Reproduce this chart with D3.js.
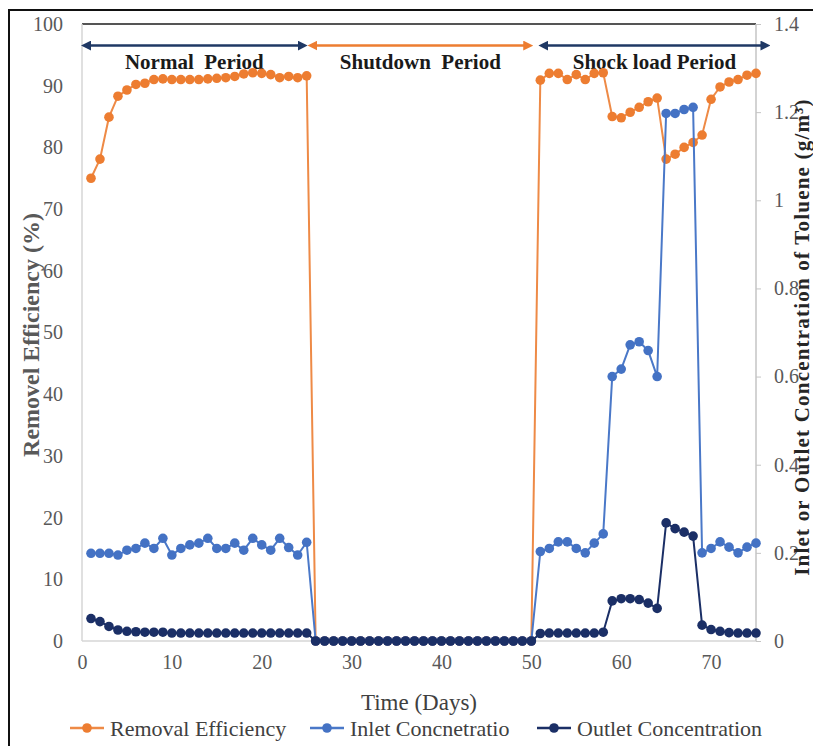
<!DOCTYPE html>
<html>
<head>
<meta charset="utf-8">
<script src="https://cdn.jsdelivr.net/npm/d3@7"></script>
<style>
  html, body { margin: 0; padding: 0; background: #fff; }
  svg { display: block; }
</style>
</head>
<body>
<svg id="chart" width="813" height="746"></svg>
<script>
// Days of operation
const days = [
  1, 2, 3, 4, 5, 6, 7, 8, 9, 10, 11, 12, 13, 14, 15, 16, 17, 18, 19, 20, 21, 22, 23, 24, 25,
  26, 27, 28, 29, 30, 31, 32, 33, 34, 35, 36, 37, 38, 39, 40, 41, 42, 43, 44, 45, 46, 47, 48, 49, 50,
  51, 52, 53, 54, 55, 56, 57, 58, 59, 60, 61, 62, 63, 64, 65, 66, 67, 68, 69, 70, 71, 72, 73, 74, 75
];

// Removal efficiency (%), left axis
const removalEfficiency = [
  75.0, 78.1, 84.9, 88.3, 89.3, 90.2, 90.4, 91.0, 91.1, 91.0, 91.0, 91.0, 91.0, 91.1, 91.2, 91.3, 91.5, 91.9, 92.1, 92.0, 91.8, 91.3, 91.5, 91.3, 91.6,
  0, 0, 0, 0, 0, 0, 0, 0, 0, 0, 0, 0, 0, 0, 0, 0, 0, 0, 0, 0, 0, 0, 0, 0, 0,
  90.9, 92.0, 92.0, 91.0, 91.8, 91.0, 92.0, 92.1, 85.0, 84.8, 85.7, 86.5, 87.4, 88.0, 78.1, 78.9, 80.0, 80.8, 82.0, 87.8, 89.8, 90.6, 91.0, 91.7, 92.0
];

// Inlet concentration of toluene (g/m3), right axis
const inletConcentration = [
  0.199, 0.199, 0.199, 0.195, 0.206, 0.210, 0.222, 0.210, 0.233, 0.195, 0.210, 0.218, 0.222, 0.233, 0.210, 0.210, 0.222, 0.206, 0.233, 0.218, 0.206, 0.233, 0.212, 0.195, 0.224,
  0, 0, 0, 0, 0, 0, 0, 0, 0, 0, 0, 0, 0, 0, 0, 0, 0, 0, 0, 0, 0, 0, 0, 0, 0,
  0.203, 0.210, 0.225, 0.225, 0.210, 0.200, 0.222, 0.243, 0.600, 0.617, 0.672, 0.679, 0.659, 0.600, 1.197, 1.197, 1.206, 1.211, 0.200, 0.210, 0.225, 0.213, 0.200, 0.213, 0.222
];

// Outlet concentration of toluene (g/m3), right axis
const outletConcentration = [
  0.051, 0.044, 0.033, 0.025, 0.022, 0.021, 0.020, 0.020, 0.020, 0.018, 0.018, 0.018, 0.018, 0.018, 0.018, 0.018, 0.018, 0.018, 0.018, 0.018, 0.018, 0.018, 0.018, 0.018, 0.018,
  0, 0, 0, 0, 0, 0, 0, 0, 0, 0, 0, 0, 0, 0, 0, 0, 0, 0, 0, 0, 0, 0, 0, 0, 0,
  0.017, 0.018, 0.018, 0.018, 0.018, 0.018, 0.018, 0.020, 0.091, 0.096, 0.096, 0.094, 0.086, 0.074, 0.268, 0.255, 0.247, 0.238, 0.036, 0.026, 0.022, 0.019, 0.018, 0.018, 0.018
];

// Tick values
const xTicks = [0, 10, 20, 30, 40, 50, 60, 70];
const leftTicks = [0, 10, 20, 30, 40, 50, 60, 70, 80, 90, 100];
const rightTicks = [0, 0.2, 0.4, 0.6, 0.8, 1, 1.2, 1.4];

// Operating periods shown as arrows along the top
const periodNames = ["Normal  Period", "Shutdown  Period", "Shock load Period"];
const periodStart = [0, 25.2, 50.9];
const periodEnd = [25, 50.1, 76.5];

const seriesNames = ["Removal Efficiency", "Inlet Concnetratio", "Outlet Concentration"];

const colors = {
  removal: "#ED7D31",
  inlet: "#4472C4",
  outlet: "#1B2F66",
  period: ["#1F3864", "#ED7D31", "#1F3864"]
};

const svg = d3.select("#chart");
const serif = "'Liberation Serif', 'Times New Roman', serif";

const plot = { left: 82, right: 756, top: 24, bottom: 641 };

const x = d3.scaleLinear().domain([0, 75]).range([plot.left, plot.right]);
const yLeft = d3.scaleLinear().domain([0, 100]).range([plot.bottom, plot.top]);
const yRight = d3.scaleLinear().domain([0, 1.4]).range([plot.bottom, plot.top]);

// outer frame
svg.append("rect")
  .attr("x", 9).attr("y", 10)
  .attr("width", 830).attr("height", 760)
  .attr("fill", "none").attr("stroke", "#111").attr("stroke-width", 2);

// axis lines
svg.append("line")
  .attr("x1", plot.left).attr("x2", plot.right)
  .attr("y1", plot.top).attr("y2", plot.top)
  .attr("stroke", "#555").attr("stroke-width", 2);
svg.append("line")
  .attr("x1", plot.left).attr("x2", plot.right)
  .attr("y1", plot.bottom).attr("y2", plot.bottom)
  .attr("stroke", "#d6d6d6").attr("stroke-width", 1.5);
svg.append("line")
  .attr("x1", plot.left).attr("x2", plot.left)
  .attr("y1", plot.top).attr("y2", plot.bottom)
  .attr("stroke", "#d6d6d6").attr("stroke-width", 1.5);
svg.append("line")
  .attr("x1", plot.right).attr("x2", plot.right)
  .attr("y1", plot.top).attr("y2", plot.bottom)
  .attr("stroke", "#c4c4c4").attr("stroke-width", 1.5);

// x axis
const xAxis = svg.append("g")
  .attr("transform", `translate(0,${plot.bottom})`)
  .call(d3.axisBottom(x).tickValues(xTicks).tickSize(0).tickPadding(14).tickFormat(d3.format("d")));
xAxis.select(".domain").remove();
xAxis.selectAll("text")
  .attr("font-family", serif).attr("font-size", 20).attr("fill", "#595959");

// left axis
const leftAxis = svg.append("g")
  .attr("transform", `translate(${plot.left},0)`)
  .call(d3.axisLeft(yLeft).tickValues(leftTicks).tickSize(0).tickPadding(19).tickFormat(d3.format("d")));
leftAxis.select(".domain").remove();
leftAxis.selectAll("text")
  .attr("font-family", serif).attr("font-size", 20).attr("fill", "#595959");

// right axis
const rightAxis = svg.append("g")
  .attr("transform", `translate(${plot.right},0)`)
  .call(d3.axisRight(yRight).tickValues(rightTicks).tickSize(5).tickPadding(13).tickFormat(d => d3.format("~g")(d)));
rightAxis.select(".domain").remove();
rightAxis.selectAll("line").attr("stroke", "#c4c4c4");
rightAxis.selectAll("text")
  .attr("font-family", serif).attr("font-size", 20).attr("fill", "#595959");

// axis titles
svg.append("text")
  .attr("transform", `translate(39,335) rotate(-90)`)
  .attr("text-anchor", "middle")
  .attr("font-family", serif).attr("font-size", 24).attr("font-weight", "bold")
  .attr("fill", "#595959")
  .text("Removel Efficiency (%)");

svg.append("text")
  .attr("transform", `translate(809,337) rotate(-90)`)
  .attr("text-anchor", "middle")
  .attr("font-family", serif).attr("font-size", 21).attr("font-weight", "bold")
  .attr("letter-spacing", 1.2)
  .attr("fill", "#262626")
  .text("Inlet or Outlet Concentration of Toluene (g/m³)");

svg.append("text")
  .attr("x", (plot.left + plot.right) / 2).attr("y", 710)
  .attr("text-anchor", "middle")
  .attr("font-family", serif).attr("font-size", 23)
  .attr("fill", "#404040")
  .text("Time (Days)");

// period arrows and labels
const defs = svg.append("defs");
colors.period.forEach((c, i) => {
  defs.append("marker")
    .attr("id", "arrow" + i).attr("viewBox", "0 0 10 10")
    .attr("refX", 5).attr("refY", 5)
    .attr("markerWidth", 4).attr("markerHeight", 4)
    .attr("orient", "auto-start-reverse")
    .append("path").attr("d", "M0,0 L10,5 L0,10 z").attr("fill", c);
});

const arrowY = yLeft(96.5);
periodNames.forEach((name, i) => {
  svg.append("line")
    .attr("x1", x(periodStart[i]) + 4).attr("x2", x(periodEnd[i]) - 4)
    .attr("y1", arrowY).attr("y2", arrowY)
    .attr("stroke", colors.period[i]).attr("stroke-width", 2.5)
    .attr("marker-start", `url(#arrow${i})`)
    .attr("marker-end", `url(#arrow${i})`);
  svg.append("text")
    .attr("x", x((periodStart[i] + periodEnd[i]) / 2))
    .attr("y", 69)
    .attr("text-anchor", "middle")
    .attr("font-family", serif).attr("font-size", 21).attr("font-weight", "bold")
    .attr("fill", "#1a1a1a")
    .style("white-space", "pre")
    .text(name);
});

// series
const series = [
  { values: removalEfficiency, y: yLeft, color: colors.removal, lineColor: "#EE8A46" },
  { values: inletConcentration, y: yRight, color: colors.inlet, lineColor: "#4A78C8" },
  { values: outletConcentration, y: yRight, color: colors.outlet, lineColor: "#1B2F66" }
];

series.forEach(s => {
  const pts = days.map((d, i) => [d, s.values[i]]);
  svg.append("path")
    .datum(pts)
    .attr("fill", "none")
    .attr("stroke", s.lineColor)
    .attr("stroke-width", 2)
    .attr("d", d3.line().x(p => x(p[0])).y(p => s.y(p[1])));
  svg.append("g")
    .selectAll("circle")
    .data(pts)
    .join("circle")
    .attr("cx", p => x(p[0]))
    .attr("cy", p => s.y(p[1]))
    .attr("r", 4.8)
    .attr("fill", s.color);
});

// legend
const legendY = 728;
const legendX = [70, 310, 537];
seriesNames.forEach((name, i) => {
  const g = svg.append("g").attr("transform", `translate(${legendX[i]},${legendY})`);
  g.append("line").attr("x1", 0).attr("x2", 34).attr("y1", 0).attr("y2", 0)
    .attr("stroke", series[i].lineColor).attr("stroke-width", 2.5);
  g.append("circle").attr("cx", 17).attr("cy", 0).attr("r", 4.8).attr("fill", series[i].color);
  g.append("text")
    .attr("x", 40).attr("y", 8)
    .attr("font-family", serif).attr("font-size", 22)
    .attr("fill", "#404040")
    .text(name);
});
</script>
</body>
</html>
